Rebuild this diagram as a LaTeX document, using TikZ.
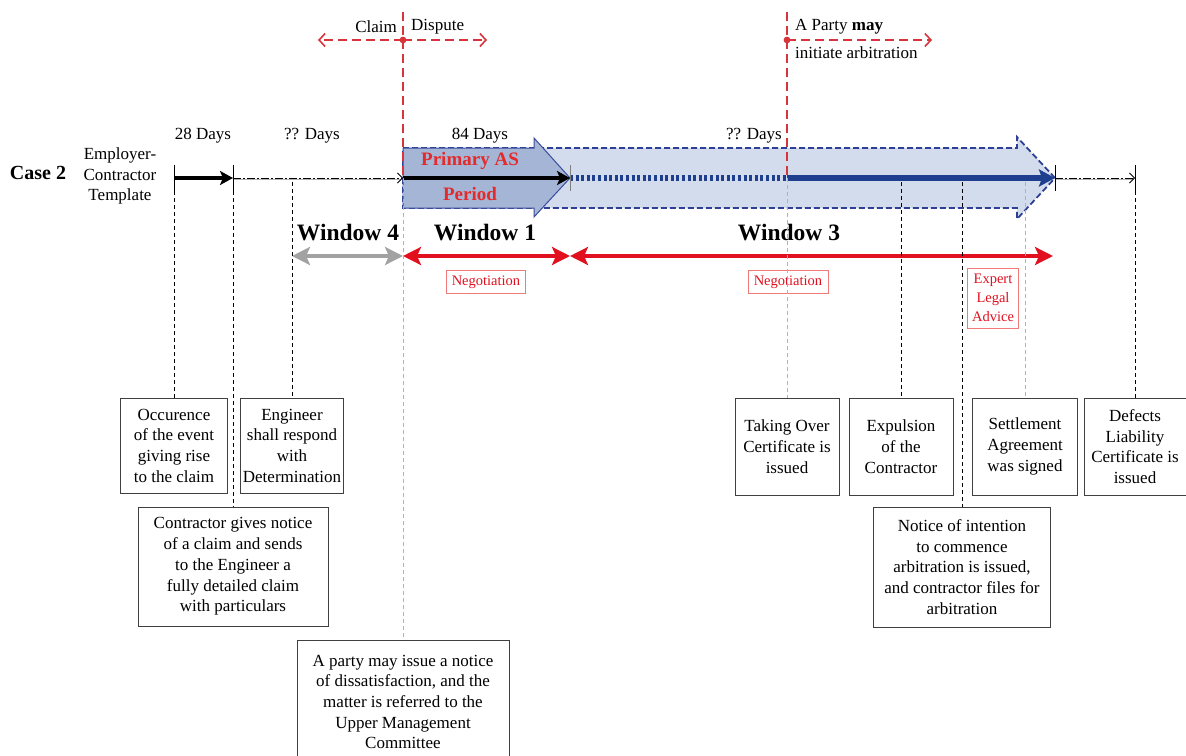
\documentclass[tikz,border=0pt]{standalone}
\usepackage{fontspec}
\setmainfont{Liberation Serif}
\usetikzlibrary{arrows.meta}
\definecolor{redline}{HTML}{D8343C}
\definecolor{winred}{HTML}{E2101E}
\definecolor{txtred}{HTML}{E42A2A}
\definecolor{boxred}{HTML}{F07A7A}
\definecolor{primfill}{HTML}{A4B5D6}
\definecolor{primedge}{HTML}{3B4C9E}
\definecolor{lightfill}{HTML}{D3DCEC}
\definecolor{dashedge}{HTML}{2E4095}
\definecolor{blueline}{HTML}{1E3F8E}
\definecolor{winggray}{HTML}{A2A2A2}
\begin{document}
\begin{tikzpicture}[x=1pt,y=-1pt,
  txt/.style={font=\fontsize{17}{20.7}\selectfont, inner sep=0pt},
  wintxt/.style={font=\fontsize{23.5}{26}\selectfont\bfseries, inner sep=0pt},
  eventbox/.style={draw=black!75, line width=0.7pt, align=center,
    font=\fontsize{17}{20.7}\selectfont, inner sep=1pt},
  notebox/.style={draw=boxred, line width=0.7pt, align=center, text=winred,
    font=\fontsize{14.5}{19}\selectfont, inner sep=2pt},
  tick/.style={line width=0.9pt},
  conn/.style={line width=0.7pt, dash pattern=on 4pt off 3pt},
  faint/.style={black!30, line width=0.6pt, dash pattern=on 4pt off 3pt},
  reddash/.style={redline, line width=1.6pt, dash pattern=on 9pt off 5pt},
  redarrow/.style={reddash, -{Straight Barb[length=6pt,width=13pt,line width=1.6pt]}},
  dotline/.style={black, line width=0.7pt, dash pattern=on 8pt off 2pt on 2pt off 2pt},
  winarrow/.style={line width=4.8pt, {Stealth[length=18pt,width=18pt,inset=4pt]}-{Stealth[length=18pt,width=18pt,inset=4pt]}}
]
\useasboundingbox (0,0) rectangle (1186,755);

% ---- points on the time line ----
\coordinate (a) at (174,178);
\coordinate (b) at (233,178);
\coordinate (c) at (292,178);
\coordinate (d) at (403,178);
\coordinate (e) at (570,178);
\coordinate (f) at (787,178);
\coordinate (g) at (901,178);
\coordinate (h) at (962,178);
\coordinate (i) at (1025,178);
\coordinate (j) at (1055,178);
\coordinate (k) at (1135,178);

% ---- labels on the left ----
\node[font=\fontsize{20}{22}\selectfont\bfseries, inner sep=0pt] (case) at (38,173) {Case 2};
\node[txt, align=center] (tmpl) at (120,176) {Employer-\\Contractor\\Template};

% ---- day counts ----
\node[txt] (d28) at (203,136) {28 Days};
\node[txt] (dq1) at (312,136) {?? Days};
\node[txt] (d84) at (480,136) {84 Days};
\node[txt] (dq2) at (754,136) {?? Days};

% ---- long dashed block arrow ----
\filldraw[fill=lightfill, draw=dashedge, line width=1.8pt, dash pattern=on 6pt off 3pt]
  (403,148) -- (1017,148) -- (1017,137) -- (1055,178) -- (1017,219) -- (1017,208) -- (403,208) -- cycle;

% ---- primary block arrow ----
\filldraw[fill=primfill, draw=primedge, line width=1pt]
  (403,148) -- (534,148) -- (534,138) -- (570,178) -- (534,217) -- (534,208) -- (403,208) -- cycle;
\node[font=\fontsize{19}{21}\selectfont\bfseries, text=txtred, inner sep=0pt] (prim) at (470,161) {Primary AS};
\node[font=\fontsize{19}{21}\selectfont\bfseries, text=txtred, inner sep=0pt] (per) at (470,194) {Period};

% ---- time line segments ----
\draw[line width=4.2pt, -{Stealth[length=13pt,width=14pt,inset=3pt]}] (a) -- (b);
\draw[black!30, line width=0.7pt] ([yshift=-1.5pt]b) -- ([yshift=-1.5pt,xshift=-2pt]d);
\draw[dotline, -{Straight Barb[length=5pt,width=10pt,line width=0.8pt]}] (b) -- (d);
\draw[line width=4pt, -{Stealth[length=13pt,width=14pt,inset=3pt]}] (d) -- (e);
\draw[blueline, line width=6pt, dash pattern=on 3pt off 2.6pt] (e) -- (f);
\draw[blueline, line width=6pt, -{Stealth[length=16pt,width=17pt,inset=3pt]}] (f) -- (j);
\draw[black!30, line width=0.7pt] ([yshift=-1.5pt]j) -- ([yshift=-1.5pt,xshift=-2pt]k);
\draw[dotline, -{Straight Barb[length=5pt,width=10pt,line width=0.8pt]}] (j) -- (k);

% ---- ticks ----
\draw[tick] ([yshift=13pt]a) -- ([yshift=-13pt]a);
\draw[tick] ([yshift=13pt]b) -- ([yshift=-13pt]b);
\draw[tick, black!50] ([yshift=13pt]e) -- ([yshift=-13pt]e);
\draw[tick] ([yshift=13pt]j) -- ([yshift=-13pt]j);
\draw[tick] ([yshift=13pt]k) -- ([yshift=-13pt]k);

% ---- claim / dispute markers ----
\coordinate (cdtop) at (403,12);
\coordinate (cd) at (403,40);
\coordinate (cdl) at (318,40);
\coordinate (cdr) at (487,40);
\coordinate (artop) at (787,12);
\coordinate (ar) at (787,40);
\coordinate (arr) at (932,40);
\draw[reddash] (cdtop) -- (d);
\draw[reddash] (artop) -- (f);
\draw[redarrow] (cd) -- (cdl);
\draw[redarrow] (cd) -- (cdr);
\draw[redarrow] (ar) -- (arr);
\fill[redline] (cd) circle (3.4pt);
\fill[redline] (ar) circle (3.4pt);
\node[txt, anchor=east] (claim) at (397,27) {Claim};
\node[txt, anchor=west] (disp) at (411,27) {Dispute};
\node[txt, anchor=west] (may) at (795,27) {A Party \textbf{may}};
\node[txt, anchor=west] (init) at (795,53) {initiate arbitration};

% ---- windows ----
\node[wintxt] (w4) at (348,233) {Window 4};
\node[wintxt] (w1) at (485,233) {Window 1};
\node[wintxt] (w3) at (789,233) {Window 3};
\coordinate (w4a) at (292,256);
\coordinate (w4b) at (403,256);
\coordinate (w1b) at (570,256);
\coordinate (w3b) at (1053,256);
\draw[winarrow, winggray] (w4a) -- (w4b);
\draw[winarrow, winred] (w4b) -- (w1b);
\draw[winarrow, winred] (w1b) -- (w3b);
\node[notebox, minimum width=79pt, minimum height=23pt] (neg1) at (486,282) {Negotiation};
\node[notebox, minimum width=80pt, minimum height=23pt] (neg3) at (788,282) {Negotiation};
\node[notebox, minimum width=51pt, minimum height=60pt] (legal) at (993,298) {Expert\\Legal\\Advice};

% ---- event boxes ----
\node[eventbox, minimum width=107pt, minimum height=95pt] (occ) at (174,445.5)
  {Occurence\\of the event\\giving rise\\to the claim};
\node[eventbox, minimum width=103pt, minimum height=95pt] (eng) at (292,445.5)
  {Engineer\\shall respond\\with\\Determination};
\node[eventbox, minimum width=190pt, minimum height=119pt] (ctr) at (233,566.5)
  {Contractor gives notice\\of a claim and sends\\to the Engineer a\\fully detailed claim\\with particulars};
\node[eventbox, minimum width=212pt, minimum height=124pt] (nod) at (403,702)
  {A party may issue a notice\\of dissatisfaction, and the\\matter is referred to the\\Upper Management\\Committee};
\node[eventbox, minimum width=104pt, minimum height=97pt] (toc) at (787,446.5)
  {Taking Over\\Certificate is\\issued};
\node[eventbox, minimum width=104pt, minimum height=97pt] (exp) at (901,446.5)
  {Expulsion\\of the\\Contractor};
\node[eventbox, minimum width=105pt, minimum height=97pt] (set) at (1025,446.5)
  {Settlement\\Agreement\\was signed};
\node[eventbox, minimum width=102pt, minimum height=97pt] (dlc) at (1135,446.5)
  {Defects\\Liability\\Certificate is\\issued};
\node[eventbox, minimum width=177pt, minimum height=120pt] (noi) at (962,567)
  {Notice of intention\\to commence\\arbitration is issued,\\and contractor files for\\arbitration};

% ---- connectors from the time line ----
\draw[conn] ([yshift=-13pt]a) -- (occ.north);
\draw[conn] ([yshift=-13pt]b) -- (ctr.north);
\draw[conn] ([yshift=-4pt]c) -- (eng.north);
\draw[faint] (d) -- (nod.north);
\draw[faint] (f) -- (toc.north);
\draw[conn] ([yshift=-4pt]g) -- (exp.north);
\draw[conn] ([yshift=-4pt]h) -- (noi.north);
\draw[faint] ([yshift=-4pt]i) -- (set.north);
\draw[conn] ([yshift=-13pt]k) -- (dlc.north);
\end{tikzpicture}
\end{document}
